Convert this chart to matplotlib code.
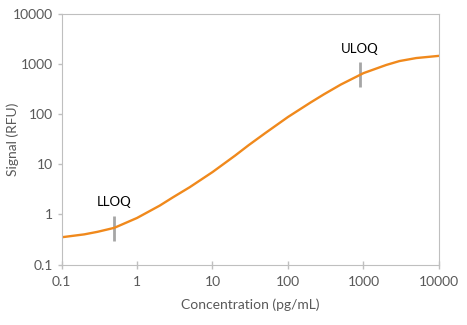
import matplotlib
import matplotlib.pyplot as plt

matplotlib.use("Agg")

# values (log-log)
conc = [0.1, 0.2, 0.3, 0.5, 1, 2, 3, 5, 10, 20, 30, 50, 100, 200, 300, 500,
        1000, 2000, 3000, 5000, 10000]
signal = [0.35, 0.40, 0.45, 0.54, 0.85, 1.5, 2.2, 3.5, 7.0, 15.0, 24, 42, 88,
          172, 250, 390, 660, 960, 1150, 1320, 1460]

ticks = [0.1, 1, 10, 100, 1000, 10000]
tick_labels = ["0.1", "1", "10", "100", "1000", "10000"]

lloq_x, lloq_y = 0.5, 0.54
uloq_x, uloq_y = 900, 620

GRAY = "#bfbfbf"
TXT = "#595959"

plt.rcParams["font.family"] = ["Lato", "DejaVu Sans"]

fig = plt.figure(figsize=(4.67, 3.25), dpi=100)
ax = fig.add_axes([0.1317, 0.186, 0.8083, 0.771])

ax.plot(conc, signal, color="#f0891c", lw=1.7, solid_capstyle="round")
ax.set_xscale("log")
ax.set_yscale("log")
ax.set_xlim(0.1, 10000)
ax.set_ylim(0.1, 10000)

for x, y, lab in [(lloq_x, lloq_y, "LLOQ"), (uloq_x, uloq_y, "ULOQ")]:
    ax.plot([x], [y], marker="|", ms=18, mew=2, color="#a6a6a6", zorder=1)
    ax.annotate(lab, (x, y), xytext=(0, 14), textcoords="offset points",
                ha="center", va="bottom", fontsize=9.5, color="black")

ax.minorticks_off()
ax.set_xticks(ticks)
ax.set_xticklabels(tick_labels)
ax.set_yticks(ticks)
ax.set_yticklabels(tick_labels)
ax.tick_params(axis="x", direction="inout", length=6, width=1, color=GRAY,
               labelsize=10, labelcolor=TXT, pad=5)
ax.tick_params(axis="y", direction="out", length=3, width=1, color=GRAY,
               labelsize=10, labelcolor=TXT, pad=3)
for s in ax.spines.values():
    s.set_color(GRAY)

ax.set_xlabel("Concentration (pg/mL)", fontsize=10, color=TXT)
ax.set_ylabel("Signal (RFU)", fontsize=10, color=TXT)
ax.xaxis.set_label_coords(0.5, -0.135)
ax.yaxis.set_label_coords(-0.112, 0.5)

fig.savefig("out.png", dpi=100)
